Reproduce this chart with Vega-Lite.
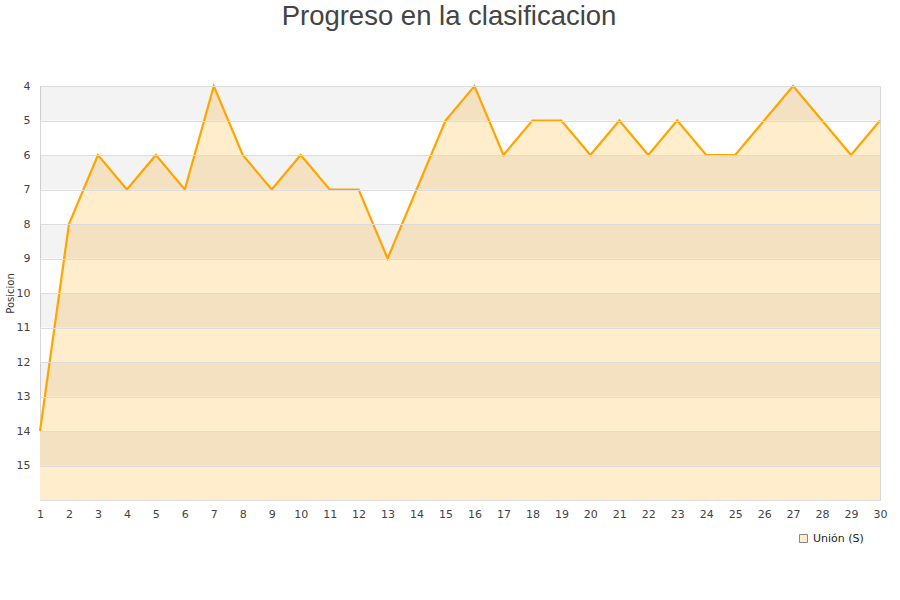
{
  "$schema": "https://vega.github.io/schema/vega-lite/v6.json",
  "width": 840,
  "height": 414,
  "autosize": {"type": "none"},
  "padding": {"left": 40, "top": 86, "right": 20, "bottom": 100},
  "background": "white",
  "title": {
    "text": "Progreso en la clasificacion",
    "font": "Liberation Sans",
    "fontSize": 27.5,
    "fontWeight": "normal",
    "color": "#444444",
    "anchor": "middle",
    "baseline": "bottom",
    "offset": 22,
    "dx": -11
  },
  "config": {
    "view": {"stroke": "#d8d8d8", "strokeWidth": 1},
    "font": "DejaVu Sans",
    "axis": {"labelFont": "DejaVu Sans", "labelColor": "#444444", "labelFontSize": 11, "ticks": false, "domain": false, "labelOverlap": false},
    "axisQuantitative": {"labelOverlap": false}
  },
  "datasets": {
    "bands": [
      {"desde": 4, "hasta": 5},
      {"desde": 6, "hasta": 7},
      {"desde": 8, "hasta": 9},
      {"desde": 10, "hasta": 11},
      {"desde": 12, "hasta": 13},
      {"desde": 14, "hasta": 15}
    ],
    "posiciones": [
      {"jornada": 1, "posicion": 14, "equipo": "Unión (S)"},
      {"jornada": 2, "posicion": 8, "equipo": "Unión (S)"},
      {"jornada": 3, "posicion": 6, "equipo": "Unión (S)"},
      {"jornada": 4, "posicion": 7, "equipo": "Unión (S)"},
      {"jornada": 5, "posicion": 6, "equipo": "Unión (S)"},
      {"jornada": 6, "posicion": 7, "equipo": "Unión (S)"},
      {"jornada": 7, "posicion": 4, "equipo": "Unión (S)"},
      {"jornada": 8, "posicion": 6, "equipo": "Unión (S)"},
      {"jornada": 9, "posicion": 7, "equipo": "Unión (S)"},
      {"jornada": 10, "posicion": 6, "equipo": "Unión (S)"},
      {"jornada": 11, "posicion": 7, "equipo": "Unión (S)"},
      {"jornada": 12, "posicion": 7, "equipo": "Unión (S)"},
      {"jornada": 13, "posicion": 9, "equipo": "Unión (S)"},
      {"jornada": 14, "posicion": 7, "equipo": "Unión (S)"},
      {"jornada": 15, "posicion": 5, "equipo": "Unión (S)"},
      {"jornada": 16, "posicion": 4, "equipo": "Unión (S)"},
      {"jornada": 17, "posicion": 6, "equipo": "Unión (S)"},
      {"jornada": 18, "posicion": 5, "equipo": "Unión (S)"},
      {"jornada": 19, "posicion": 5, "equipo": "Unión (S)"},
      {"jornada": 20, "posicion": 6, "equipo": "Unión (S)"},
      {"jornada": 21, "posicion": 5, "equipo": "Unión (S)"},
      {"jornada": 22, "posicion": 6, "equipo": "Unión (S)"},
      {"jornada": 23, "posicion": 5, "equipo": "Unión (S)"},
      {"jornada": 24, "posicion": 6, "equipo": "Unión (S)"},
      {"jornada": 25, "posicion": 6, "equipo": "Unión (S)"},
      {"jornada": 26, "posicion": 5, "equipo": "Unión (S)"},
      {"jornada": 27, "posicion": 4, "equipo": "Unión (S)"},
      {"jornada": 28, "posicion": 5, "equipo": "Unión (S)"},
      {"jornada": 29, "posicion": 6, "equipo": "Unión (S)"},
      {"jornada": 30, "posicion": 5, "equipo": "Unión (S)"}
    ]
  },
  "layer": [
    {
      "data": {"name": "posiciones"},
      "mark": {"type": "area", "interpolate": "linear"},
      "encoding": {
        "x": {"field": "jornada", "type": "quantitative", "scale": {"domain": [1, 30], "nice": false, "zero": false},
              "axis": {"values": [1,2,3,4,5,6,7,8,9,10,11,12,13,14,15,16,17,18,19,20,21,22,23,24,25,26,27,28,29,30], "grid": false, "labelPadding": 8, "title": null, "labelFlush": false, "labelOverlap": false, "labelBound": false}},
        "y": {"field": "posicion", "type": "quantitative", "scale": {"domain": [4, 16], "reverse": true, "nice": false, "zero": false},
              "axis": {"values": [4,5,6,7,8,9,10,11,12,13,14,15,16], "grid": true, "gridColor": "#dcdcdc", "zindex": 1, "labelOverlap": false, "labelFlush": false, "labelExpr": "datum.value == 16 ? '' : datum.label", "labelPadding": 10, "title": "Posicion", "titleFont": "DejaVu Sans", "titleFontSize": 10, "titleFontWeight": "normal", "titleColor": "#333333", "titlePadding": 1}},
        "y2": {"datum": 16},
        "fill": {"field": "equipo", "type": "nominal", "scale": {"range": ["#ffedcc"]},
                 "legend": {"title": null, "orient": "none", "legendX": 758, "legendY": 447, "symbolType": "square", "symbolSize": 64, "symbolStrokeColor": "#888888", "symbolStrokeWidth": 1, "labelFont": "DejaVu Sans", "labelFontSize": 11, "labelColor": "#222222"}}
      }
    },
    {
      "data": {"name": "bands"},
      "mark": {"type": "rect", "fill": "#000000", "opacity": 0.047},
      "encoding": {
        "x": {"datum": 1, "type": "quantitative",
              "axis": {"values": [1,2,3,4,5,6,7,8,9,10,11,12,13,14,15,16,17,18,19,20,21,22,23,24,25,26,27,28,29,30], "grid": false, "labelPadding": 8, "title": null, "labelFlush": false, "labelOverlap": false, "labelBound": false}},
        "x2": {"datum": 30},
        "y": {"field": "desde", "type": "quantitative",
              "axis": {"values": [4,5,6,7,8,9,10,11,12,13,14,15,16], "grid": true, "gridColor": "#dcdcdc", "zindex": 1, "labelOverlap": false, "labelFlush": false, "labelExpr": "datum.value == 16 ? '' : datum.label", "labelPadding": 10, "title": "Posicion", "titleFont": "DejaVu Sans", "titleFontSize": 10, "titleFontWeight": "normal", "titleColor": "#333333", "titlePadding": 1}},
        "y2": {"field": "hasta"}
      }
    },
    {
      "data": {"name": "posiciones"},
      "mark": {"type": "line", "stroke": "#ffa500", "strokeWidth": 2.2},
      "encoding": {
        "x": {"field": "jornada", "type": "quantitative",
              "axis": {"values": [1,2,3,4,5,6,7,8,9,10,11,12,13,14,15,16,17,18,19,20,21,22,23,24,25,26,27,28,29,30], "grid": false, "labelPadding": 8, "title": null, "labelFlush": false, "labelOverlap": false, "labelBound": false}},
        "y": {"field": "posicion", "type": "quantitative",
              "axis": {"values": [4,5,6,7,8,9,10,11,12,13,14,15,16], "grid": true, "gridColor": "#dcdcdc", "zindex": 1, "labelOverlap": false, "labelFlush": false, "labelExpr": "datum.value == 16 ? '' : datum.label", "labelPadding": 10, "title": "Posicion", "titleFont": "DejaVu Sans", "titleFontSize": 10, "titleFontWeight": "normal", "titleColor": "#333333", "titlePadding": 1}}
      }
    }
  ]
}
